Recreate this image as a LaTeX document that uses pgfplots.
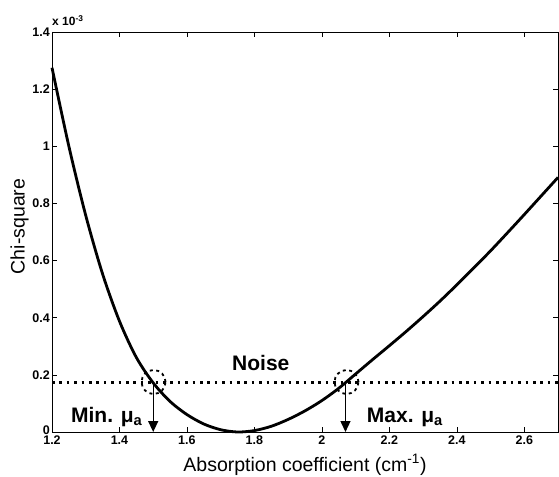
\documentclass[border=0pt]{standalone}
\usepackage{fontspec}
\setmainfont{Liberation Sans}
\usepackage{pgfplots}
\pgfplotsset{compat=1.18}
\usetikzlibrary{arrows.meta}
\begin{document}
\begin{tikzpicture}
\path[use as bounding box] (-52bp,-45bp) rectangle (507bp,432bp);
\begin{axis}[
  scale only axis, width=506bp, height=400bp,
  xmin=1.2, xmax=2.7, ymin=0, ymax=1.4,
  xtick={1.2,1.4,1.6,1.8,2,2.2,2.4,2.6},
  ytick={0,0.2,0.4,0.6,0.8,1,1.2,1.4},
  xticklabels={1.2,1.4,1.6,1.8,2,2.2,2.4,2.6},
  yticklabels={\raisebox{4bp}{0},0.2,0.4,0.6,0.8,1,1.2,1.4},
  tick align=inside, major tick length=5bp,
  tick style={black, line width=0.6bp},
  axis line style={black, line width=0.8bp},
  ticklabel style={font=\fontsize{12.5bp}{13bp}\selectfont\bfseries},
  yticklabel style={inner sep=2bp},
  xticklabel style={inner sep=1bp, yshift=-3bp},
  xlabel={Absorption coefficient (cm\textsuperscript{-1})},
  ylabel={Chi-square},
  label style={font=\fontsize{19.5bp}{24bp}\selectfont},
  xlabel style={at={(axis description cs:0.5,-0.0975)}, anchor=base},
  ylabel style={at={(axis description cs:-0.0642,0.514)}, anchor=center},
  clip=false,
]
\addplot[black, line width=2.8bp, smooth] table {
x y
1.20 1.275
1.25 1.000
1.30 0.758
1.35 0.553
1.40 0.388
1.45 0.261
1.50 0.172
1.55 0.107
1.60 0.061
1.65 0.028
1.70 0.008
1.75 0.000
1.80 0.005
1.85 0.020
1.90 0.044
1.95 0.074
2.00 0.110
2.05 0.153
2.10 0.203
2.15 0.253
2.20 0.302
2.25 0.352
2.30 0.404
2.35 0.458
2.40 0.515
2.45 0.574
2.50 0.634
2.55 0.697
2.60 0.761
2.65 0.826
2.70 0.891
};
\addplot[black, line width=3bp, dash pattern=on 2.6bp off 4.8bp] coordinates {(1.2,0.175) (2.7,0.175)};
\addplot[only marks, mark=o, mark size=12bp, mark options={black, line width=1.8bp, dash pattern=on 3bp off 3.5bp}] coordinates {(1.501,0.175) (2.073,0.175)};
\addplot[black, line width=1.4bp, -{Triangle[width=10bp,length=11bp]}] coordinates {(1.5,0.175) (1.5,0)};
\addplot[black, line width=1.4bp, -{Triangle[width=10bp,length=11bp]}] coordinates {(2.07,0.175) (2.07,0)};
\node[anchor=base, inner sep=0, font=\fontsize{21bp}{24bp}\selectfont\bfseries] at (axis cs:1.819,0.216) {Noise};
\node[anchor=base west, inner sep=0, font=\fontsize{21bp}{24bp}\selectfont\bfseries] at (axis cs:1.256,0.035) {Min. μ\textsubscript{a}};
\node[anchor=base west, inner sep=0, font=\fontsize{21bp}{24bp}\selectfont\bfseries] at (axis cs:2.133,0.035) {Max. μ\textsubscript{a}};
\node[anchor=base west, inner sep=0, yshift=6bp, font=\fontsize{12bp}{13bp}\selectfont\bfseries] at (axis description cs:0,1) {x 10\textsuperscript{-3}};
\end{axis}
\end{tikzpicture}
\end{document}
